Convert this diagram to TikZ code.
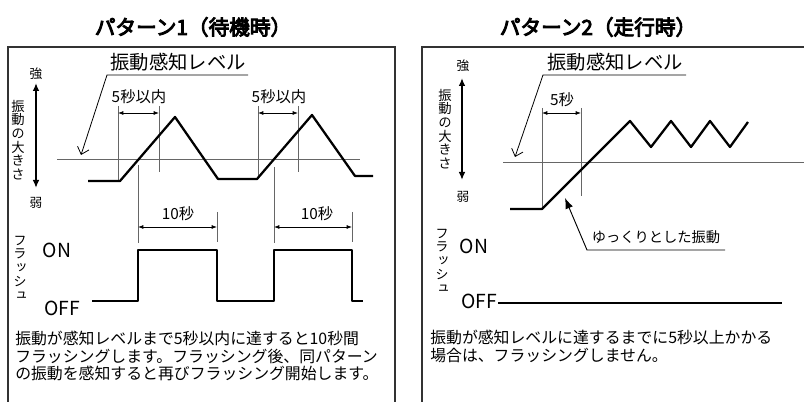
\documentclass[tikz,border=0pt]{standalone}
\usepackage{fontspec}
\setmainfont{Noto Sans CJK JP}
\newfontfamily\titlefont[FakeBold=4.5]{Noto Sans CJK JP}
\newfontfamily\vfont[RawFeature=+vert]{Noto Sans CJK JP}
\usetikzlibrary{arrows.meta}
\begin{document}
\begin{tikzpicture}[x=0.75pt,y=-0.75pt,
  wave/.style={line width=1.7pt,line join=round},
  thinline/.style={line width=0.6pt,black!60},
  leadline/.style={line width=0.6pt,black},
  dimarrow/.style={line width=0.6pt,{Latex[length=4pt,width=3pt]}-{Latex[length=4pt,width=3pt]}},
  axisarrow/.style={line width=1.6pt,{Latex[length=6pt,width=5pt]}-{Latex[length=6pt,width=5pt]}},
  leader/.style={line width=0.6pt,-{Straight Barb[length=5pt,width=9pt]}},
  slowarrow/.style={line width=0.7pt,-{Latex[length=8pt,width=6pt]}},
  frame/.style={line width=0.9pt,black!80},
  lbl/.style={inner sep=0pt},
  titlef/.style={lbl,font=\titlefont\fontsize{15.5pt}{18pt}\selectfont},
  levelf/.style={lbl,font=\fontsize{14.5pt}{16pt}\selectfont},
  secf/.style={lbl,font=\fontsize{11.5pt}{13pt}\selectfont},
  onofff/.style={lbl,font=\fontsize{14.5pt}{16pt}\selectfont},
  descf/.style={lbl,anchor=west,font=\fontsize{11.9pt}{13pt}\selectfont},
  tinyf/.style={lbl,font=\fontsize{9.5pt}{10pt}\selectfont},
  vertf/.style={lbl,align=center,font=\vfont\fontsize{10pt}{10.3pt}\selectfont},
  slowf/.style={lbl,font=\fontsize{10.7pt}{12pt}\selectfont}
]
\useasboundingbox (0,0) rectangle (804,402);

% ================= LEFT PANEL =================
\node[titlef] (titleA) at (193,27) {パターン1（待機時）};
\draw[frame] (8,402) -- (8,47) -- (395,47) -- (395,402);

\node[tinyf] (strongA) at (36,74) {強};
\node[tinyf] (weakA) at (36,203) {弱};
\coordinate (axA1) at (36,83);
\coordinate (axA2) at (36,188);
\draw[axisarrow] (axA1) -- (axA2);
\node[vertf] (magA) at (18,140) {振\\動\\の\\大\\き\\さ};

\node[levelf] (lvlA) at (178,62) {振動感知レベル};
\coordinate (ulA1) at (107,75);
\coordinate (ulA2) at (248,75);
\coordinate (tipA) at (81,155);
\draw[leader] (ulA2) -- (ulA1) -- (tipA);

\draw[thinline] (57,159) -- (360,159);

% 5 sec markers
\draw[thinline] (118,106) -- (118,181);
\draw[thinline] (159,106) -- (159,172);
\draw[dimarrow] (118,113) -- (159,113);
\node[secf] (fiveA1) at (139,97) {5秒以内};
\draw[thinline] (258,106) -- (258,179);
\draw[thinline] (298,106) -- (298,172);
\draw[dimarrow] (258,113) -- (298,113);
\node[secf] (fiveA2) at (279,97) {5秒以内};

% vibration waveform
\draw[wave] (88,181) -- (120,181) -- (175,117) -- (218,179) -- (257,179)
  -- (312,115) -- (355,176) -- (373,176);

% 10 sec markers
\draw[thinline] (138,165) -- (138,243);
\draw[thinline] (274,167) -- (274,243);
\draw[thinline] (217,212) -- (217,242);
\draw[thinline] (352,212) -- (352,242);
\draw[dimarrow] (138,227) -- (217,227);
\draw[dimarrow] (274,227) -- (352,227);
\node[secf] (tenA1) at (178,214) {10秒};
\node[secf] (tenA2) at (317,214) {10秒};

% flash waveform
\draw[wave] (92,301) -- (138,301) -- (138,250) -- (217,250) -- (217,301)
  -- (274,301) -- (274,250) -- (352,250) -- (352,301) -- (363,301);
\node[onofff] (onA) at (57,250) {ON};
\node[onofff] (offA) at (62,308) {OFF};
\node[vertf] (flashA) at (20,268) {フ\\ラ\\ッ\\シ\\ュ};

\node[descf] (dA1) at (15,338.5) {振動が感知レベルまで5秒以内に達すると10秒間};
\node[descf] (dA2) at (15,356) {フラッシングします。フラッシング後、同パターン};
\node[descf] (dA3) at (15,373.5) {の振動を感知すると再びフラッシング開始します。};

% ================= RIGHT PANEL =================
\node[titlef] (titleB) at (598,27) {パターン2（走行時）};
\draw[frame] (422,402) -- (422,47) -- (804,47);

\node[tinyf] (strongB) at (463,66) {強};
\node[tinyf] (weakB) at (463,197) {弱};
\coordinate (axB1) at (462,78);
\coordinate (axB2) at (462,180);
\draw[axisarrow] (axB1) -- (axB2);
\node[vertf] (magB) at (445,129) {振\\動\\の\\大\\き\\さ};

\node[levelf] (lvlB) at (615,62) {振動感知レベル};
\coordinate (ulB1) at (543,75);
\coordinate (ulB2) at (686,75);
\coordinate (tipB) at (515,157);
\draw[leader] (ulB2) -- (ulB1) -- (tipB);

\draw[thinline] (503,162) -- (804,162);

\draw[thinline] (542,108) -- (542,209);
\draw[thinline] (581,108) -- (581,196);
\draw[dimarrow] (542,113) -- (581,113);
\node[secf] (fiveB) at (562,100) {5秒};

\draw[wave] (510,209) -- (542,209) -- (630,121) -- (651,147) -- (671,121)
  -- (691,147) -- (710,121) -- (730,147) -- (748,122);

\node[slowf] (slowB) at (656,237) {ゆっくりとした振動};
\coordinate (slowR) at (725,250);
\coordinate (slowL) at (587,250);
\coordinate (slowTip) at (565,198);
\draw[slowarrow] (slowR) -- (slowL) -- (slowTip);

\node[onofff] (onB) at (474,246.5) {ON};
\node[onofff] (offB) at (479,301.5) {OFF};
\node[vertf] (flashB) at (442,261) {フ\\ラ\\ッ\\シ\\ュ};
\coordinate (offEnd) at (782,303);
\draw[line width=1pt] (offB.east) ++(1,1.5) -- (offEnd);

\node[descf] (dB1) at (430,337) {振動が感知レベルに達するまでに5秒以上かかる};
\node[descf] (dB2) at (430,356) {場合は、フラッシングしません。};
\end{tikzpicture}
\end{document}
